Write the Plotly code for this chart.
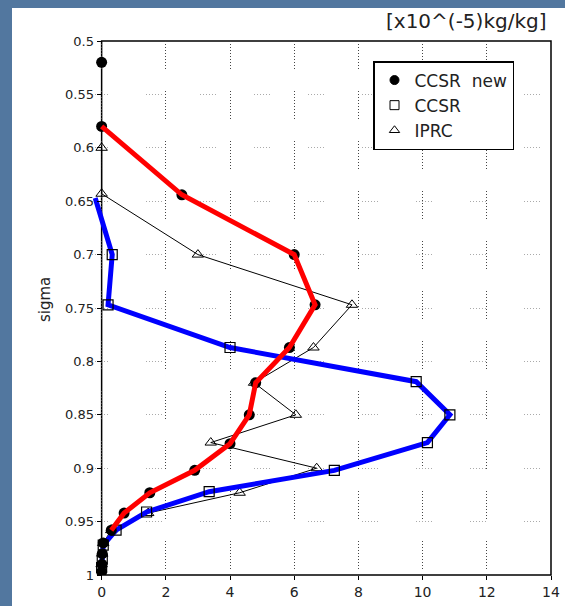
import plotly.graph_objects as go

# ---- data ----
ccsr_new_sigma = [0.52, 0.58, 0.644, 0.70, 0.747, 0.787, 0.82, 0.85, 0.877, 0.902, 0.923, 0.942, 0.958, 0.97, 0.98, 0.99, 0.997]
ccsr_new_q = [0.0, 0.0, 2.5, 6.0, 6.65, 5.85, 4.8, 4.6, 4.0, 2.9, 1.5, 0.7, 0.3, 0.05, 0.02, 0.01, 0.0]

ccsr_sigma = [0.647, 0.70, 0.747, 0.787, 0.819, 0.85, 0.876, 0.902, 0.922, 0.941, 0.958, 0.972, 0.985, 0.993]
ccsr_q = [-0.2, 0.33, 0.2, 4.0, 9.8, 10.85, 10.15, 7.25, 3.35, 1.4, 0.45, 0.05, 0.02, 0.0]

iprc_sigma = [0.60, 0.643, 0.70, 0.747, 0.787, 0.82, 0.85, 0.876, 0.90, 0.923, 0.942, 0.958, 0.97, 0.98, 0.99]
iprc_q = [0.0, 0.0, 3.0, 7.8, 6.6, 4.75, 6.05, 3.4, 6.7, 4.3, 1.45, 0.3, 0.05, 0.02, 0.0]

x_ticks = [0, 2, 4, 6, 8, 10, 12, 14]
y_ticks = [0.5, 0.55, 0.6, 0.65, 0.7, 0.75, 0.8, 0.85, 0.9, 0.95, 1.0]
y_ticktext = ["0.5", "0.55", "0.6", "0.65", "0.7", "0.75", "0.8", "0.85", "0.9", "0.95", "1"]
series_names = ["CCSR\u00a0\u00a0new", "CCSR", "IPRC"]

# ---- styling ----
W, H = 565, 606
ML, MR, MT, MB = 92, 14, 41, 31
XMIN = -0.3
pw = W - ML - MR
ph = H - MT - MB
FONT = "DejaVu Sans, Liberation Sans, sans-serif"
TXT = "#222"
x0_paper = (-XMIN) / (14 - XMIN)

fig = go.Figure()

# IPRC thin line with open triangles
fig.add_trace(go.Scatter(
    x=iprc_q, y=iprc_sigma, mode="lines+markers", showlegend=False,
    line=dict(color="black", width=1),
    marker=dict(symbol="triangle-up-open", size=10, color="black", line=dict(width=1)),
))
# CCSR thick blue with open squares
fig.add_trace(go.Scatter(
    x=ccsr_q, y=ccsr_sigma, mode="lines", showlegend=False,
    line=dict(color="#0000ff", width=5),
))
fig.add_trace(go.Scatter(
    x=ccsr_q[1:], y=ccsr_sigma[1:], mode="markers", showlegend=False,
    marker=dict(symbol="square", size=10, color="rgba(255,255,255,0)", line=dict(color="black", width=1.2)),
))
# CCSR new: black circles, red thick line on top
fig.add_trace(go.Scatter(
    x=ccsr_new_q, y=ccsr_new_sigma, mode="markers", showlegend=False,
    marker=dict(symbol="circle", size=11, color="black"),
))
fig.add_trace(go.Scatter(
    x=ccsr_new_q[1:13], y=ccsr_new_sigma[1:13], mode="lines", showlegend=False,
    line=dict(color="#ff0000", width=5),
))

# legend entries (markers only)
for name, sym in zip(series_names, ["circle", "square-open", "triangle-up-open"]):
    fig.add_trace(go.Scatter(
        x=[None], y=[None], mode="markers", name=name,
        marker=dict(symbol=sym, size=9, color="black", line=dict(color="black", width=1)),
    ))

hdash = ",".join(["1px,2px"] * 5) + ",1px,38px"
vdash = ",".join(["1px,2px"] * 9) + ",1px,22px"

fig.update_layout(
    width=W, height=H,
    margin=dict(l=ML, r=MR, t=MT, b=MB, pad=0, autoexpand=False),
    paper_bgcolor="#52779f",
    plot_bgcolor="white",
    font=dict(family=FONT, size=14, color=TXT),
    xaxis=dict(
        range=[XMIN, 14], tickvals=x_ticks, ticktext=[str(v) for v in x_ticks],
        automargin=False,
        showline=False, zeroline=False, ticks="outside", ticklen=4, tickcolor="black",
        showgrid=True, gridcolor="#444", gridwidth=1, griddash=vdash,
        tickfont=dict(family=FONT, size=14, color=TXT),
    ),
    yaxis=dict(
        range=[1.0, 0.5], tickvals=y_ticks, ticktext=y_ticktext,
        anchor="free", position=x0_paper, automargin=False,
        showline=False, zeroline=False, ticks="outside", ticklen=5, tickcolor="black",
        showgrid=True, gridcolor="#aaa", gridwidth=1, griddash=hdash,
        tickfont=dict(family=FONT, size=13, color=TXT),
    ),
    legend=dict(
        x=(373 - ML) / pw, y=(575 - 61) / ph, xanchor="left", yanchor="top",
        bgcolor="white", bordercolor="black", borderwidth=1.5,
        font=dict(family=FONT, size=17, color=TXT), itemwidth=30,
    ),
    shapes=[
        dict(type="rect", xref="paper", yref="paper",
             x0=(12 - ML) / pw, x1=1.1, y0=-0.1, y1=(575 - 8) / ph,
             fillcolor="white", line=dict(width=0), layer="below"),
        dict(type="rect", xref="paper", yref="paper", x0=x0_paper, x1=1, y0=0, y1=1,
             line=dict(color="black", width=1.5), layer="below"),
    ],
    annotations=[
        dict(text="[x10^(-5)kg/kg]", xref="paper", yref="paper",
             x=(549 - ML) / pw, y=(575 - 21) / ph, xanchor="right", yanchor="middle",
             showarrow=False, font=dict(family=FONT, size=20, color=TXT)),
        dict(text="sigma", xref="paper", yref="paper",
             x=(45 - ML) / pw, y=(575 - 300) / ph, xanchor="center", yanchor="middle",
             textangle=-90, showarrow=False, font=dict(family=FONT, size=15, color=TXT)),
    ],
)

fig.write_html(
    "out.html",
    config={"displayModeBar": False},
    post_script="document.body.style.margin='0';document.body.style.overflow='hidden';",
)
